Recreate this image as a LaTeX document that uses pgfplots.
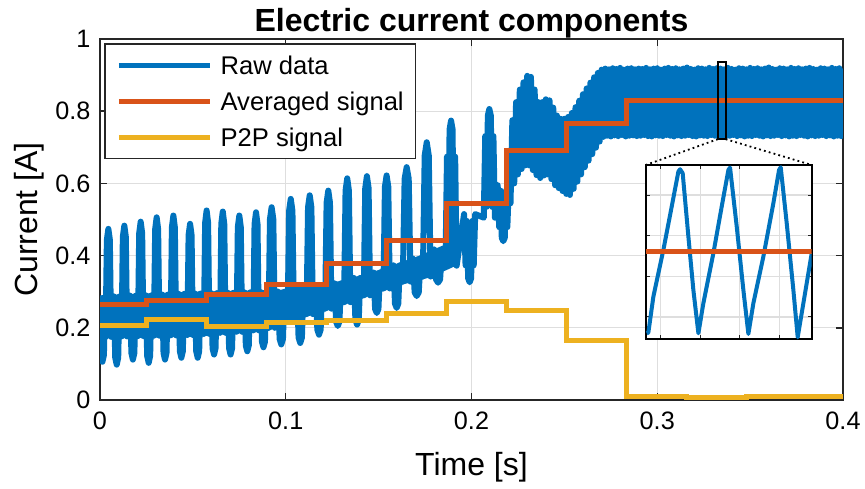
\documentclass[border=0pt]{standalone}
\usepackage{fontspec}
\setmainfont{Liberation Sans}
\usepackage{pgfplots}
\pgfplotsset{compat=1.18}

\definecolor{mblue}{rgb}{0,0.447,0.741}
\definecolor{morange}{rgb}{0.85,0.325,0.098}
\definecolor{myellow}{rgb}{0.929,0.694,0.125}
\definecolor{axgray}{rgb}{0.15,0.15,0.15}
\definecolor{gridgray}{HTML}{DEDEDE}

\begin{document}
\begin{tikzpicture}
\path[use as bounding box] (-50bp,-44.5bp) rectangle (382.5bp,200bp);

% main axis
\begin{axis}[
    scale only axis, width=371.5bp, height=180.5bp,
    xmin=0, xmax=0.4, ymin=0, ymax=1,
    xtick={0,0.1,0.2,0.3,0.4},
    ytick={0,0.2,0.4,0.6,0.8,1},
    /pgf/number format/assume math mode=true,
    tick label style={font=\fontsize{12.6bp}{15bp}\selectfont, text=black},
    xticklabel style={yshift=-2.3bp},
    yticklabel style={xshift=-1.3bp},
    axis line style={axgray, line width=0.7bp},
    tick style={axgray, line width=0.7bp},
    major tick length=3.7bp,
    tick align=inside,
    grid=major,
    grid style={gridgray, line width=0.6bp},
    title={Electric current components},
    xlabel={Time [s]},
    ylabel={Current [A]},
    title style={at={(axis description cs:0.5,1.0202)}, anchor=base, yshift=-6pt,
        font=\fontsize{16bp}{19bp}\selectfont\bfseries},
    xlabel style={at={(axis description cs:0.5,-0.21)}, anchor=base,
        font=\fontsize{16bp}{19bp}\selectfont},
    ylabel style={at={(axis description cs:-0.084,0.5)}, anchor=base,
        font=\fontsize{16bp}{19bp}\selectfont},
    legend style={
        at={(axis description cs:0.0058,0.988)}, anchor=north west,
        draw=axgray, line width=0.6bp, fill=white,
        font=\fontsize{12.8bp}{15bp}\selectfont,
        inner xsep=5.7bp, inner ysep=6.2bp,
        row sep=8.7bp,
        nodes={inner sep=0bp, text height=9.2bp, text depth=0bp},
        /tikz/every odd column/.append style={column sep=4.15bp},
    },
    legend cell align=left,
    legend image code/.code={\draw[#1,line width=2.5bp,line cap=butt] (0bp,0bp) -- (45.5bp,0bp);},
]

% dense core of the raw signal (where the fast ripple fills the band)
\addplot[fill=mblue, draw=none, forget plot] coordinates {
(0,0.17)(0.05,0.175)(0.09,0.19)(0.104,0.22)(0.124,0.25)(0.144,0.286)
(0.163,0.32)(0.178,0.34)(0.193,0.375)
(0.193,0.45)(0.19,0.44)(0.172,0.40)(0.15,0.36)(0.13,0.33)(0.097,0.305)
(0.05,0.30)(0,0.29)} --cycle;

% raw data
\addplot[mblue, line width=3bp, line join=round] coordinates {
(0.0000,0.285)(0.0005,0.124)(0.0013,0.106)(0.0021,0.124)(0.0028,0.285)
(0.0030,0.175)(0.0037,0.444)(0.0045,0.474)(0.0053,0.444)(0.0060,0.175)
(0.0075,0.287)(0.0082,0.117)(0.0090,0.098)(0.0098,0.117)(0.0105,0.287)
(0.0116,0.176)(0.0123,0.452)(0.0131,0.483)(0.0139,0.452)(0.0146,0.176)
(0.0162,0.289)(0.0169,0.130)(0.0177,0.112)(0.0185,0.130)(0.0192,0.289)
(0.0204,0.177)(0.0211,0.462)(0.0219,0.494)(0.0227,0.462)(0.0234,0.177)
(0.0247,0.290)(0.0254,0.122)(0.0262,0.103)(0.0270,0.122)(0.0277,0.290)
(0.0290,0.178)(0.0297,0.473)(0.0305,0.506)(0.0313,0.473)(0.0320,0.178)
(0.0335,0.292)(0.0342,0.130)(0.0350,0.112)(0.0358,0.130)(0.0365,0.292)
(0.0380,0.179)(0.0387,0.478)(0.0395,0.511)(0.0403,0.478)(0.0410,0.179)
(0.0423,0.294)(0.0430,0.135)(0.0438,0.117)(0.0446,0.135)(0.0453,0.294)
(0.0470,0.180)(0.0477,0.457)(0.0485,0.488)(0.0493,0.457)(0.0500,0.180)
(0.0511,0.295)(0.0518,0.135)(0.0526,0.117)(0.0534,0.135)(0.0541,0.295)
(0.0559,0.183)(0.0566,0.491)(0.0574,0.525)(0.0582,0.491)(0.0589,0.183)
(0.0599,0.296)(0.0606,0.143)(0.0614,0.126)(0.0622,0.143)(0.0629,0.296)
(0.0646,0.186)(0.0653,0.488)(0.0661,0.522)(0.0669,0.488)(0.0676,0.186)
(0.0688,0.297)(0.0695,0.143)(0.0703,0.126)(0.0711,0.143)(0.0718,0.297)
(0.0735,0.189)(0.0742,0.479)(0.0750,0.511)(0.0758,0.479)(0.0765,0.189)
(0.0778,0.298)(0.0785,0.151)(0.0793,0.135)(0.0801,0.151)(0.0808,0.298)
(0.0825,0.193)(0.0832,0.487)(0.0840,0.520)(0.0848,0.487)(0.0855,0.193)
(0.0865,0.299)(0.0872,0.161)(0.0880,0.146)(0.0888,0.161)(0.0895,0.299)
(0.0907,0.200)(0.0915,0.501)(0.0924,0.534)(0.0933,0.501)(0.0941,0.200)
(0.0959,0.300)(0.0967,0.169)(0.0976,0.154)(0.0985,0.169)(0.0993,0.300)
(0.1010,0.222)(0.1018,0.524)(0.1027,0.557)(0.1036,0.524)(0.1044,0.222)
(0.1061,0.308)(0.1069,0.173)(0.1078,0.158)(0.1087,0.173)(0.1095,0.308)
(0.1112,0.238)(0.1120,0.534)(0.1129,0.567)(0.1138,0.534)(0.1146,0.238)
(0.1162,0.316)(0.1170,0.195)(0.1179,0.181)(0.1188,0.195)(0.1196,0.316)
(0.1212,0.253)(0.1220,0.547)(0.1229,0.580)(0.1238,0.547)(0.1246,0.253)
(0.1263,0.323)(0.1271,0.217)(0.1280,0.205)(0.1289,0.217)(0.1297,0.323)
(0.1314,0.271)(0.1322,0.580)(0.1331,0.614)(0.1340,0.580)(0.1348,0.271)
(0.1367,0.338)(0.1375,0.222)(0.1384,0.209)(0.1393,0.222)(0.1401,0.338)
(0.1420,0.290)(0.1428,0.587)(0.1437,0.620)(0.1446,0.587)(0.1454,0.290)
(0.1473,0.353)(0.1481,0.252)(0.1490,0.241)(0.1499,0.252)(0.1507,0.353)
(0.1526,0.309)(0.1534,0.591)(0.1543,0.622)(0.1552,0.591)(0.1560,0.309)
(0.1580,0.373)(0.1588,0.267)(0.1597,0.255)(0.1606,0.267)(0.1614,0.373)
(0.1630,0.328)(0.1640,0.613)(0.1651,0.645)(0.1662,0.613)(0.1672,0.328)
(0.1684,0.392)(0.1694,0.298)(0.1705,0.288)(0.1716,0.298)(0.1726,0.392)
(0.1738,0.342)(0.1748,0.677)(0.1759,0.714)(0.1770,0.677)(0.1780,0.342)
(0.1799,0.417)(0.1809,0.334)(0.1820,0.325)(0.1831,0.334)(0.1841,0.417)
(0.1860,0.372)(0.1868,0.674)(0.1875,0.412)(0.1882,0.750)(0.1890,0.774)
(0.1898,0.750)(0.1905,0.412)(0.1912,0.674)(0.1920,0.372)
(0.1960,0.515)(0.1968,0.373)(0.1975,0.496)(0.1982,0.337)(0.1990,0.326)
(0.1998,0.337)(0.2005,0.496)(0.2012,0.373)(0.2020,0.515)
(0.2066,0.505)(0.2074,0.731)(0.2081,0.535)(0.2088,0.788)(0.2096,0.806)
(0.2104,0.788)(0.2111,0.535)(0.2118,0.731)(0.2126,0.505)
(0.2141,0.595)(0.2149,0.479)(0.2156,0.580)(0.2163,0.449)(0.2171,0.440)
(0.2179,0.449)(0.2186,0.580)(0.2193,0.479)(0.2201,0.595)
(0.221,0.545)(0.222,0.775)(0.223,0.600)(0.224,0.825)
(0.225,0.625)(0.226,0.860)(0.227,0.640)(0.228,0.880)(0.229,0.650)
(0.230,0.898)(0.231,0.650)(0.232,0.895)(0.233,0.637)(0.234,0.860)
(0.235,0.623)(0.236,0.825)(0.237,0.615)(0.238,0.825)(0.239,0.622)
(0.240,0.833)(0.241,0.625)(0.242,0.830)(0.243,0.612)(0.244,0.810)
(0.245,0.595)(0.246,0.788)(0.247,0.587)(0.248,0.779)(0.249,0.579)
(0.250,0.779)(0.251,0.571)(0.252,0.784)(0.253,0.568)(0.254,0.795)
(0.255,0.585)(0.256,0.811)(0.257,0.605)(0.258,0.829)(0.259,0.625)
(0.260,0.847)(0.261,0.645)(0.262,0.863)(0.263,0.663)(0.264,0.879)
(0.265,0.681)(0.266,0.894)(0.267,0.699)(0.268,0.906)(0.269,0.716)
(0.270,0.915)(0.271,0.729)
(0.272,0.918)(0.273,0.732)(0.274,0.916)(0.275,0.730)(0.276,0.919)(0.277,0.733)(0.278,0.917)(0.279,0.731)(0.280,0.920)(0.281,0.734)
(0.282,0.915)(0.283,0.730)(0.284,0.918)(0.285,0.732)(0.286,0.919)(0.287,0.733)(0.288,0.916)(0.289,0.731)(0.290,0.918)(0.291,0.732)
(0.292,0.917)(0.293,0.734)(0.294,0.920)(0.295,0.731)(0.296,0.916)(0.297,0.730)(0.298,0.918)(0.299,0.733)(0.300,0.919)(0.301,0.732)
(0.302,0.915)(0.303,0.731)(0.304,0.918)(0.305,0.734)(0.306,0.920)(0.307,0.732)(0.308,0.917)(0.309,0.730)(0.310,0.919)(0.311,0.733)
(0.312,0.916)(0.313,0.731)(0.314,0.918)(0.315,0.732)(0.316,0.921)(0.317,0.734)(0.318,0.917)(0.319,0.731)(0.320,0.915)(0.321,0.730)
(0.322,0.919)(0.323,0.733)(0.324,0.918)(0.325,0.732)(0.326,0.916)(0.327,0.731)(0.328,0.920)(0.329,0.734)(0.330,0.917)(0.331,0.732)
(0.332,0.919)(0.333,0.730)(0.334,0.918)(0.335,0.733)(0.336,0.916)(0.337,0.731)(0.338,0.920)(0.339,0.732)(0.340,0.917)(0.341,0.734)
(0.342,0.915)(0.343,0.731)(0.344,0.919)(0.345,0.733)(0.346,0.918)(0.347,0.730)(0.348,0.916)(0.349,0.732)(0.350,0.920)(0.351,0.731)
(0.352,0.917)(0.353,0.734)(0.354,0.919)(0.355,0.732)(0.356,0.916)(0.357,0.730)(0.358,0.918)(0.359,0.733)(0.360,0.921)(0.361,0.731)
(0.362,0.917)(0.363,0.732)(0.364,0.915)(0.365,0.734)(0.366,0.919)(0.367,0.731)(0.368,0.918)(0.369,0.733)(0.370,0.916)(0.371,0.730)
(0.372,0.920)(0.373,0.732)(0.374,0.917)(0.375,0.731)(0.376,0.919)(0.377,0.734)(0.378,0.916)(0.379,0.732)(0.380,0.918)(0.381,0.730)
(0.382,0.920)(0.383,0.733)(0.384,0.917)(0.385,0.731)(0.386,0.915)(0.387,0.732)(0.388,0.919)(0.389,0.734)(0.390,0.918)(0.391,0.731)
(0.392,0.916)(0.393,0.733)(0.394,0.920)(0.395,0.730)(0.396,0.917)(0.397,0.732)(0.398,0.919)(0.399,0.731)(0.400,0.918)
};
\addlegendentry{Raw data}

% averaged signal
\addplot[morange, line width=2.5bp, const plot] coordinates {
(0,0.265)(0.0253,0.277)(0.0576,0.293)(0.0899,0.320)(0.1222,0.379)
(0.1545,0.441)(0.1868,0.545)(0.2191,0.690)(0.2514,0.766)(0.2837,0.829)
(0.4,0.829)
};
\addlegendentry{Averaged signal}

% peak-to-peak signal
\addplot[myellow, line width=2.5bp, const plot] coordinates {
(0,0.205)(0.0253,0.222)(0.0576,0.203)(0.0899,0.216)(0.1222,0.219)
(0.1545,0.240)(0.1868,0.272)(0.2191,0.247)(0.2514,0.166)(0.2837,0.009)
(0.3160,0.006)(0.3483,0.009)(0.4,0.009)
};
\addlegendentry{P2P signal}

% zoom window and connectors
\addplot[black, line width=0.9bp, forget plot] coordinates {
(0.33262,0.7225)(0.33682,0.7225)(0.33682,0.937)(0.33262,0.937)} --cycle;
\addplot[black, line width=0.9bp, dash pattern=on 0.9bp off 1.6bp, forget plot]
    coordinates {(0.33262,0.7225)(0.29378,0.651)};
\addplot[black, line width=0.9bp, dash pattern=on 0.9bp off 1.6bp, forget plot]
    coordinates {(0.33682,0.7225)(0.38315,0.651)};
\end{axis}

% inset
\begin{axis}[
    at={(272.85bp,30.35bp)}, anchor=south west,
    scale only axis, width=83bp, height=87.15bp,
    xmin=0.33262, xmax=0.33682, ymin=0.7225, ymax=0.937,
    xtick={0.333,0.334,0.335,0.336},
    ytick={0.75,0.8,0.85,0.9},
    xticklabels={}, yticklabels={},
    axis background/.style={fill=white},
    axis line style={black, line width=1.2bp},
    tick style={axgray, line width=0.5bp},
    major tick length=2bp,
    tick align=inside,
    grid=major,
    grid style={gridgray, line width=0.6bp},
]
\addplot[mblue, line width=2bp, line join=round] coordinates {
(0.332645,0.7299)(0.332687,0.7307)(0.332814,0.7750)(0.333067,0.8325)
(0.333278,0.8858)(0.333447,0.9289)(0.333489,0.9318)(0.333556,0.9268)
(0.333700,0.8489)(0.333826,0.7832)(0.333953,0.7299)(0.334079,0.7668)
(0.334332,0.8284)(0.334543,0.8858)(0.334712,0.9309)(0.334754,0.9338)
(0.334923,0.8612)(0.335091,0.7832)(0.335218,0.7291)(0.335344,0.7668)
(0.335597,0.8243)(0.335850,0.8899)(0.335994,0.9309)(0.336036,0.9342)
(0.336188,0.8653)(0.336356,0.7832)(0.336466,0.7250)(0.336609,0.7668)
(0.336820,0.8284)
};
\addplot[morange, line width=2.5bp] coordinates {(0.33262,0.830)(0.33682,0.830)};
\end{axis}
\end{tikzpicture}
\end{document}
